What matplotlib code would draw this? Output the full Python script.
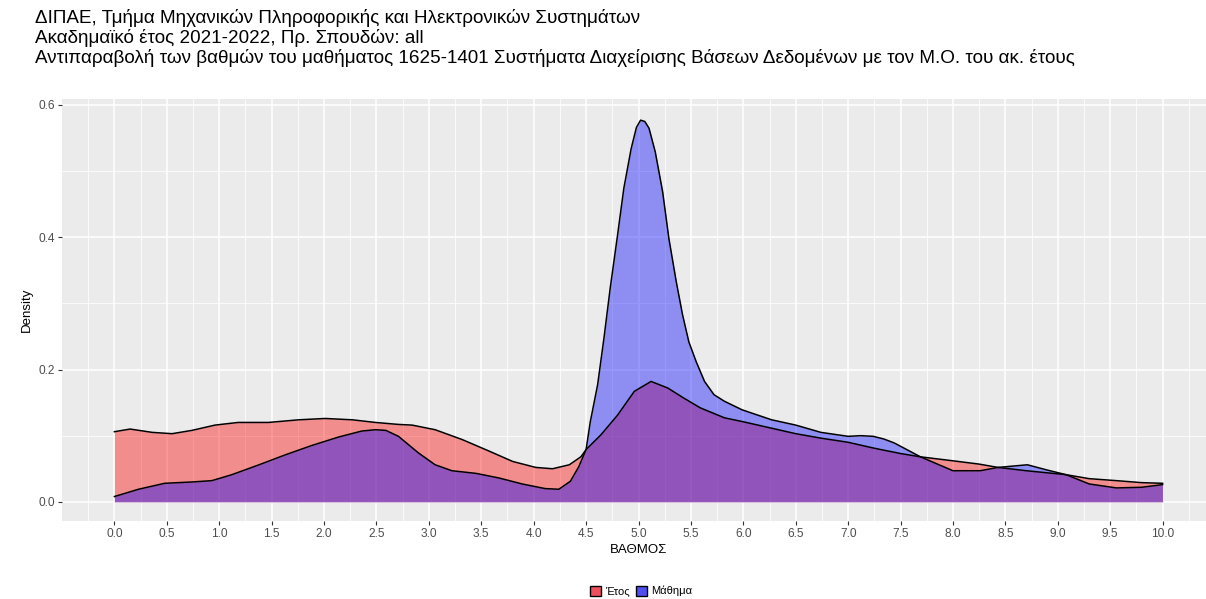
import matplotlib
matplotlib.use("Agg")
import matplotlib.pyplot as plt
from matplotlib.patches import Patch

plt.rcParams['font.family'] = ['Liberation Sans', 'DejaVu Sans']

# density curves
etos_x = [0.0, 0.15, 0.36, 0.55, 0.74, 0.96, 1.18, 1.47, 1.76, 2.01, 2.27, 2.49, 2.71,
          2.84, 3.06, 3.32, 3.57, 3.8, 4.02, 4.18, 4.34, 4.45, 4.5, 4.64, 4.8, 4.96,
          5.12, 5.28, 5.43, 5.59, 5.82, 6.0, 6.25, 6.5, 6.75, 7.0, 7.25, 7.5, 7.69,
          8.0, 8.25, 8.43, 8.7, 9.08, 9.3, 9.56, 9.8, 10.0]
etos_y = [0.106, 0.110, 0.105, 0.103, 0.108, 0.116, 0.120, 0.120, 0.124, 0.126, 0.124,
          0.120, 0.117, 0.116, 0.109, 0.094, 0.077, 0.061, 0.052, 0.050, 0.056, 0.068,
          0.079, 0.101, 0.131, 0.167, 0.182, 0.172, 0.157, 0.142, 0.127, 0.121, 0.112,
          0.103, 0.096, 0.090, 0.081, 0.073, 0.068, 0.062, 0.057, 0.052, 0.047, 0.041,
          0.035, 0.032, 0.029, 0.028]

mathima_x = [0.0, 0.23, 0.48, 0.74, 0.93, 1.12, 1.38, 1.63, 1.88, 2.14, 2.36, 2.49,
             2.59, 2.71, 2.9, 3.06, 3.22, 3.45, 3.67, 3.89, 4.11, 4.24, 4.35, 4.43,
             4.5, 4.54, 4.61, 4.67, 4.73, 4.8, 4.86, 4.93, 4.98, 5.02, 5.06, 5.1, 5.16,
             5.23, 5.29, 5.36, 5.42, 5.48, 5.55, 5.63, 5.72, 5.82, 5.99, 6.27, 6.5,
             6.74, 7.0, 7.12, 7.24, 7.34, 7.44, 7.69, 8.0, 8.26, 8.43, 8.71, 8.9,
             9.08, 9.3, 9.56, 9.8, 10.0]
mathima_y = [0.008, 0.019, 0.028, 0.030, 0.032, 0.041, 0.056, 0.071, 0.085, 0.098,
             0.107, 0.109, 0.108, 0.099, 0.074, 0.056, 0.047, 0.043, 0.036, 0.027,
             0.020, 0.019, 0.031, 0.053, 0.079, 0.121, 0.177, 0.247, 0.323, 0.403,
             0.474, 0.534, 0.566, 0.577, 0.575, 0.565, 0.529, 0.469, 0.398, 0.333,
             0.283, 0.242, 0.212, 0.182, 0.162, 0.152, 0.139, 0.124, 0.116, 0.105,
             0.099, 0.100, 0.099, 0.095, 0.089, 0.068, 0.047, 0.047, 0.052, 0.056,
             0.048, 0.041, 0.027, 0.021, 0.022, 0.026]

x_ticks = [i * 0.5 for i in range(21)]
y_ticks = [0.0, 0.2, 0.4, 0.6]
labels = ["Έτος", "Μάθημα"]
title = ("ΔΙΠΑΕ, Τμήμα Μηχανικών Πληροφορικής και Ηλεκτρονικών Συστημάτων\n"
         "Ακαδημαϊκό έτος 2021-2022, Πρ. Σπουδών: all\n"
         "Αντιπαραβολή των βαθμών του μαθήματος 1625-1401 Συστήματα Διαχείρισης "
         "Βάσεων Δεδομένων με τον Μ.Ο. του ακ. έτους")

fig = plt.figure(figsize=(12.06, 5.99), dpi=100)
ax = fig.add_axes([62 / 1206, 78 / 599, 1153 / 1206, 422 / 599])
ax.set_facecolor("#EBEBEB")

ax.fill_between(etos_x, 0, etos_y, color="red", alpha=0.4, lw=0)
ax.plot(etos_x, etos_y, color="black", lw=1.1)
ax.fill_between(mathima_x, 0, mathima_y, color="blue", alpha=0.4, lw=0)
ax.plot(mathima_x, mathima_y, color="black", lw=1.1)

ax.set_xlim(-0.5, 10.5)
ax.set_ylim(-0.029, 0.609)
ax.set_xticks(x_ticks)
ax.set_xticklabels([f"{t:.1f}" for t in x_ticks])
ax.set_yticks(y_ticks)
ax.set_yticklabels([f"{t:.1f}" for t in y_ticks])
ax.set_xticks([t + 0.25 for t in x_ticks[:-1]] + [-0.25, 10.25], minor=True)
ax.set_yticks([0.1, 0.3, 0.5], minor=True)
ax.grid(which="major", color="white", lw=1.1)
ax.grid(which="minor", color="white", lw=0.55)
ax.set_axisbelow(True)
for s in ax.spines.values():
    s.set_visible(False)
ax.tick_params(which="major", colors="#333333", length=3, width=0.8,
               labelsize=8.6, labelcolor="#4D4D4D", pad=2)
ax.tick_params(which="minor", length=0)

ax.set_xlabel("ΒΑΘΜΟΣ", fontsize=9.5, labelpad=3)
ax.set_ylabel("Density", fontsize=9.5, labelpad=4)

fig.text(35 / 1206, 1 - 9 / 599, title, ha="left", va="top", fontsize=13.6,
         linespacing=1.15)

handles = [Patch(facecolor="#F0505E", edgecolor="black", lw=1),
           Patch(facecolor="#5050F0", edgecolor="black", lw=1)]
fig.legend(handles, labels, loc="center", bbox_to_anchor=(641 / 1206, 1 - 591 / 599),
           ncol=2, frameon=False, fontsize=8, handlelength=1.0, handleheight=1.0,
           handletextpad=0.4, columnspacing=0.5)

fig.savefig("out.png", dpi=100)
